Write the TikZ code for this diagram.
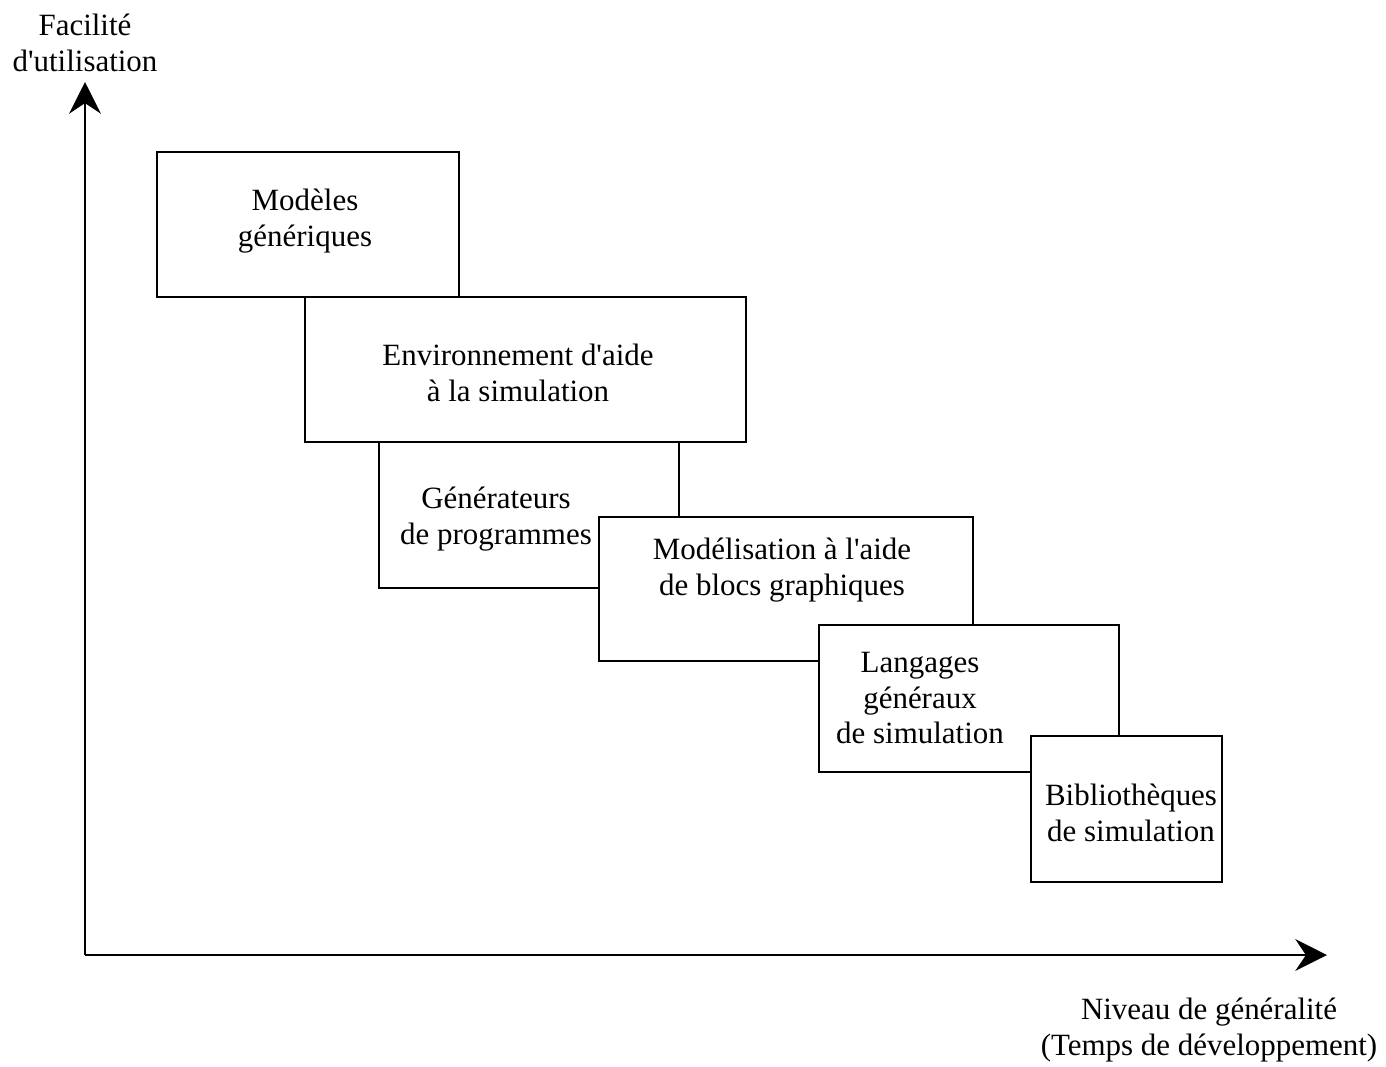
\documentclass[tikz,border=0pt]{standalone}
\usepackage{fontspec}
\setmainfont{Liberation Serif}
\usetikzlibrary{arrows.meta}

\begin{document}
\begin{tikzpicture}[x=0.01cm, y=-0.01cm, line width=0.7pt,
    boite/.style={draw, fill=white, rectangle, inner sep=0pt},
    texte/.style={align=center, inner sep=0pt, font=\fontsize{8.8}{10.2}\selectfont},
    fleche/.style={-{Stealth[length=9pt, width=9pt, inset=3pt]}}]
    \useasboundingbox (0,0) rectangle (1386,1066);

    % Axes
    \coordinate (O) at (85,955);
    \coordinate (Y) at (85,82);
    \coordinate (X) at (1327,955);
    \draw[fleche] (O) -- (Y);
    \draw[fleche] (O) -- (X);
    \node[texte] (ylab) at (85,43) {Facilité\\d\textquotesingle utilisation};
    \node[texte] (xlab) at (1209,1030) {Niveau de généralité\\(Temps de développement)};

    % Boxes, drawn in order so that each one covers the previous
    \node[boite, minimum width=3.02cm, minimum height=1.45cm] (mod) at (308,224.5) {};
    \node[texte] (modT) at (305,221) {Modèles\\génériques};

    \node[boite, minimum width=4.41cm, minimum height=1.45cm] (env) at (525.5,369.5) {};
    \node[texte] (envT) at (518,373) {Environnement d\textquotesingle aide\\à la simulation};

    \node[boite, minimum width=3.00cm, minimum height=1.46cm] (gen) at (529,515) {};
    \node[texte] (genT) at (496,519) {Générateurs\\de programmes};

    \node[boite, minimum width=3.74cm, minimum height=1.44cm] (blocs) at (786,589) {};
    \node[texte] (blocsT) at (782,570) {Modélisation à l\textquotesingle aide\\de blocs graphiques};

    \node[boite, minimum width=3.00cm, minimum height=1.47cm] (lang) at (969,698.5) {};
    \node[texte] (langT) at (920,698) {Langages\\généraux\\de simulation};

    \node[boite, minimum width=1.91cm, minimum height=1.46cm] (bib) at (1126.5,809) {};
    \node[texte] (bibT) at (1131,813) {Bibliothèques\\de simulation};
\end{tikzpicture}
\end{document}
